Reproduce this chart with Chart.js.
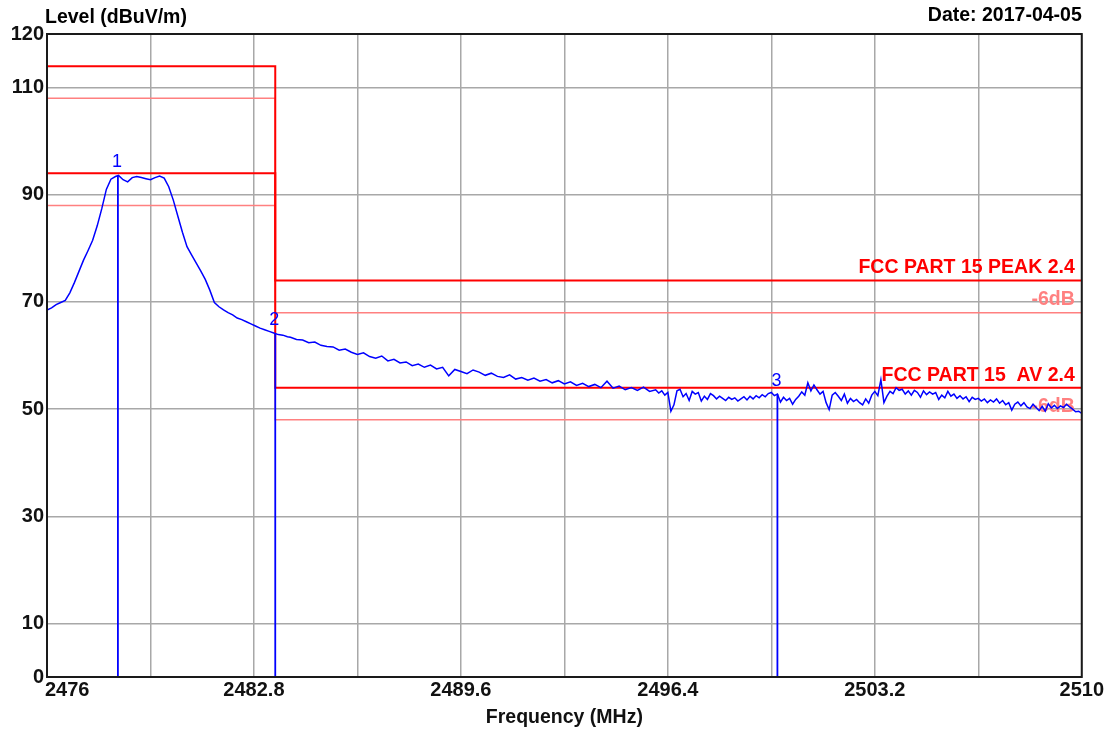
<!DOCTYPE html>
<html>
<head>
<meta charset="utf-8">
<script src="https://cdn.jsdelivr.net/npm/chart.js@4.4.1/dist/chart.umd.min.js"></script>
<style>
html, body { margin: 0; padding: 0; background: #fff; }
#wrap { width: 1105px; height: 731px; }
</style>
</head>
<body>
<div id="wrap"><canvas id="emiChart" width="1105" height="731"></canvas></div>
<script>
// measured sweep, [MHz, dBuV/m]
const trace = [
    [2476.00, 68.5], [2476.15, 68.9], [2476.30, 69.5], [2476.45, 69.9], [2476.60, 70.3],
    [2476.75, 71.7], [2476.90, 73.6], [2477.05, 75.7], [2477.20, 77.8], [2477.35, 79.6],
    [2477.50, 81.5], [2477.65, 84.2], [2477.80, 87.4], [2477.95, 91.0], [2478.10, 92.9],
    [2478.25, 93.4], [2478.35, 93.6], [2478.50, 92.8], [2478.65, 92.4], [2478.80, 93.2],
    [2478.95, 93.4], [2479.10, 93.2], [2479.25, 93.0], [2479.40, 92.8], [2479.55, 93.2],
    [2479.70, 93.5], [2479.85, 93.1], [2480.00, 91.5], [2480.15, 89.0], [2480.30, 86.0],
    [2480.45, 83.0], [2480.60, 80.3], [2480.75, 78.8], [2480.90, 77.3], [2481.05, 75.8],
    [2481.20, 74.2], [2481.35, 72.2], [2481.50, 69.9], [2481.65, 69.1], [2481.80, 68.5],
    [2481.95, 68.0], [2482.10, 67.6], [2482.25, 67.0], [2482.40, 66.7], [2482.55, 66.3],
    [2482.70, 65.9], [2482.85, 65.5], [2483.00, 65.1], [2483.15, 64.8], [2483.30, 64.5],
    [2483.45, 64.2], [2483.60, 63.9], [2483.75, 63.8], [2483.90, 63.5],
    [2484.0, 63.4], [2484.2, 63.0], [2484.4, 62.9], [2484.6, 62.4], [2484.8, 62.5],
    [2485.0, 61.9], [2485.2, 61.7], [2485.4, 61.6], [2485.6, 61.0], [2485.8, 61.2],
    [2486.0, 60.6], [2486.2, 60.2], [2486.4, 60.5], [2486.6, 59.8], [2486.8, 59.5],
    [2487.0, 59.9], [2487.2, 59.0], [2487.4, 59.3], [2487.6, 58.6], [2487.8, 58.8],
    [2488.0, 58.1], [2488.2, 58.4], [2488.4, 57.8], [2488.6, 58.2], [2488.8, 57.5],
    [2489.0, 57.8], [2489.2, 56.2], [2489.4, 57.4], [2489.6, 57.0], [2489.8, 56.6],
    [2490.0, 57.3], [2490.2, 56.9], [2490.4, 56.3], [2490.6, 56.7], [2490.8, 56.1],
    [2491.0, 55.9], [2491.2, 56.4], [2491.4, 55.6], [2491.6, 55.9], [2491.8, 55.4],
    [2492.0, 55.8], [2492.2, 55.2], [2492.4, 55.5], [2492.6, 54.9], [2492.8, 55.3],
    [2493.0, 54.7], [2493.2, 55.1], [2493.4, 54.4], [2493.6, 54.8], [2493.8, 54.2],
    [2494.0, 54.6], [2494.2, 54.0], [2494.4, 55.2], [2494.6, 53.9], [2494.8, 54.3],
    [2495.0, 53.6], [2495.2, 54.0], [2495.4, 53.5], [2495.6, 54.1], [2495.8, 53.3],
    [2496.0, 53.6], [2496.1, 53.0], [2496.2, 53.4], [2496.3, 52.6], [2496.4, 53.1],
    [2496.5, 49.6], [2496.6, 50.8], [2496.7, 53.4], [2496.8, 53.7], [2496.9, 52.3],
    [2497.0, 52.9], [2497.1, 51.6], [2497.2, 53.3], [2497.3, 52.8], [2497.4, 53.1],
    [2497.5, 51.5], [2497.6, 52.4], [2497.7, 51.8], [2497.8, 52.9], [2497.9, 52.5],
    [2498.0, 51.9], [2498.1, 52.4], [2498.2, 52.0], [2498.3, 51.6], [2498.4, 52.2],
    [2498.5, 51.8], [2498.6, 52.1], [2498.7, 51.5], [2498.8, 51.9], [2498.9, 52.3],
    [2499.0, 51.7], [2499.1, 52.4], [2499.2, 51.9], [2499.3, 52.5], [2499.4, 52.1],
    [2499.5, 52.7], [2499.6, 52.3], [2499.7, 52.9], [2499.8, 53.1], [2499.9, 52.5],
    [2500.0, 52.8], [2500.1, 51.3], [2500.2, 52.2], [2500.3, 51.6], [2500.4, 52.0],
    [2500.5, 50.9], [2500.6, 51.8], [2500.7, 52.4], [2500.8, 53.2], [2500.9, 52.6],
    [2501.0, 54.9], [2501.1, 53.4], [2501.2, 54.5], [2501.3, 53.6], [2501.4, 52.8],
    [2501.5, 53.3], [2501.6, 51.2], [2501.7, 49.9], [2501.8, 52.6], [2501.9, 53.1],
    [2502.0, 52.4], [2502.1, 51.6], [2502.2, 52.8], [2502.3, 51.1], [2502.4, 52.0],
    [2502.5, 51.4], [2502.6, 51.8], [2502.7, 51.2], [2502.8, 50.8], [2502.9, 51.9],
    [2503.0, 51.1], [2503.1, 52.6], [2503.2, 53.3], [2503.3, 52.5], [2503.4, 55.5],
    [2503.5, 51.2], [2503.6, 52.4], [2503.7, 53.3], [2503.8, 52.9], [2503.9, 54.0],
    [2504.0, 53.5], [2504.1, 53.7], [2504.2, 52.8], [2504.3, 53.4], [2504.4, 52.6],
    [2504.5, 53.5], [2504.6, 53.1], [2504.7, 52.2], [2504.8, 53.4], [2504.9, 52.7],
    [2505.0, 53.2], [2505.1, 52.8], [2505.2, 53.1], [2505.3, 51.8], [2505.4, 52.6],
    [2505.5, 52.1], [2505.6, 53.3], [2505.7, 52.4], [2505.8, 52.8], [2505.9, 52.0],
    [2506.0, 52.5], [2506.1, 51.9], [2506.2, 52.3], [2506.3, 51.4], [2506.4, 52.2],
    [2506.5, 51.8], [2506.6, 52.0], [2506.7, 51.5], [2506.8, 51.9], [2506.9, 51.2],
    [2507.0, 51.7], [2507.1, 51.3], [2507.2, 51.9], [2507.3, 51.1], [2507.4, 51.6],
    [2507.5, 50.8], [2507.6, 51.2], [2507.7, 49.8], [2507.8, 50.9], [2507.9, 51.3],
    [2508.0, 50.6], [2508.1, 51.2], [2508.2, 50.4], [2508.3, 50.1], [2508.4, 50.9],
    [2508.5, 50.3], [2508.6, 49.7], [2508.7, 50.5], [2508.8, 49.6], [2508.9, 51.0],
    [2509.0, 50.2], [2509.1, 50.7], [2509.2, 50.1], [2509.3, 50.6], [2509.4, 50.3],
    [2509.5, 50.9], [2509.6, 50.4], [2509.7, 50.0], [2509.8, 49.5], [2509.9, 49.6],
    [2510.0, 49.2]
];

// limit lines: [below band edge, above band edge]
const bandEdge = 2483.5;
const peakLimit = [114, 74];
const peakMargin = [108, 68];
const avLimit = [94, 54];
const avMargin = [88, 48];

const markerName = ["1", "2", "3"];
const markerFreq = [2478.33, 2483.5, 2500.0];
const markerLevel = [93.6, 64.2, 52.8];

const xMin = 2476;
const xMax = 2510;
const xGrid = [2476, 2479.4, 2482.8, 2486.2, 2489.6, 2493, 2496.4, 2499.8, 2503.2, 2506.6, 2510];
const xLabelled = [2476, 2482.8, 2489.6, 2496.4, 2503.2, 2510];
const yTicks = [0, 10, 30, 50, 70, 90, 110, 120];

const FONT = "'Liberation Sans', Arial, sans-serif";
const RED = "#ff0000";
const PINK = "#ff8080";
const BLUE = "#0000ff";

function stepLine(levels) {
    return [
        { x: xMin, y: levels[0] },
        { x: bandEdge, y: levels[0] },
        { x: bandEdge, y: levels[1] },
        { x: xMax, y: levels[1] }
    ];
}

const lineDefaults = {
    pointRadius: 0,
    pointHoverRadius: 0,
    tension: 0,
    fill: false
};

const datasets = [
    { ...lineDefaults, label: "peakMargin", data: stepLine(peakMargin), borderColor: PINK, borderWidth: 1.5, order: 4 },
    { ...lineDefaults, label: "avMargin", data: stepLine(avMargin), borderColor: PINK, borderWidth: 1.5, order: 4 },
    { ...lineDefaults, label: "peakLimit", data: stepLine(peakLimit), borderColor: RED, borderWidth: 2, order: 3 },
    { ...lineDefaults, label: "avLimit", data: stepLine(avLimit), borderColor: RED, borderWidth: 2, order: 3 },
    { ...lineDefaults, label: "trace", data: trace.map(p => ({ x: p[0], y: p[1] })), borderColor: BLUE, borderWidth: 1.5, order: 2 }
];

markerFreq.forEach((f, i) => {
    datasets.push({
        ...lineDefaults,
        label: "marker" + markerName[i],
        data: [{ x: f, y: 0 }, { x: f, y: markerLevel[i] }],
        borderColor: BLUE,
        borderWidth: 1.8,
        order: 1
    });
});

const overlay = {
    id: "overlay",
    beforeDatasetsDraw(chart) {
        const ctx = chart.ctx;
        const y = chart.scales.y;
        const right = chart.chartArea.right - 7;
        ctx.save();
        ctx.font = "bold 19.5px " + FONT;
        ctx.textAlign = "right";
        ctx.textBaseline = "middle";
        ctx.fillStyle = RED;
        ctx.fillText("FCC PART 15 PEAK 2.4", right, y.getPixelForValue(peakLimit[1]) - 13);
        ctx.fillText("FCC PART 15  AV 2.4", right, y.getPixelForValue(avLimit[1]) - 12);
        ctx.fillStyle = PINK;
        ctx.fillText("-6dB", right, y.getPixelForValue(peakMargin[1]) - 13);
        ctx.fillText("-6dB", right, y.getPixelForValue(avMargin[1]) - 13);
        ctx.restore();
    },
    afterDraw(chart) {
        const ctx = chart.ctx;
        const a = chart.chartArea;
        const xs = chart.scales.x;
        const ys = chart.scales.y;
        ctx.save();

        // plot frame
        ctx.strokeStyle = "#1a1a1a";
        ctx.lineWidth = 2;
        ctx.strokeRect(a.left, a.top, a.right - a.left, a.bottom - a.top);

        // marker numbers
        ctx.font = "18px " + FONT;
        ctx.fillStyle = BLUE;
        ctx.textAlign = "center";
        ctx.textBaseline = "middle";
        markerFreq.forEach((f, i) => {
            ctx.fillText(markerName[i], xs.getPixelForValue(f) - 1, ys.getPixelForValue(markerLevel[i]) - 13);
        });

        // header texts
        ctx.fillStyle = "#000";
        ctx.font = "bold 19.5px " + FONT;
        ctx.textAlign = "left";
        ctx.fillText("Level (dBuV/m)", a.left - 2, 18);
        ctx.textAlign = "right";
        ctx.fillText("Date: 2017-04-05", a.right, 16);

        // first frequency label sits right of the axis
        ctx.font = "bold 20px " + FONT;
        ctx.fillStyle = "#111";
        ctx.textAlign = "left";
        ctx.fillText(String(xLabelled[0]), xs.getPixelForValue(xLabelled[0]) - 2, a.bottom + 13);
        ctx.restore();
    }
};

new Chart(document.getElementById("emiChart"), {
    type: "line",
    data: { datasets: datasets },
    options: {
        responsive: false,
        animation: false,
        events: [],
        layout: { padding: { top: 34, right: 23, left: 0, bottom: 0 } },
        plugins: {
            legend: { display: false },
            tooltip: { enabled: false }
        },
        scales: {
            x: {
                type: "linear",
                min: xMin,
                max: xMax,
                afterBuildTicks: s => { s.ticks = xGrid.map(v => ({ value: v })); },
                afterFit: s => { s.height = 54; },
                grid: { color: "#a8a8a8", lineWidth: 1.5, drawTicks: false },
                border: { display: false },
                ticks: {
                    autoSkip: false,
                    maxRotation: 0,
                    padding: 1,
                    color: "#111",
                    font: { family: FONT, size: 20, weight: "bold" },
                    callback: v => (xLabelled.includes(v) && v !== xLabelled[0]) ? String(v) : ""
                },
                title: {
                    display: true,
                    text: "Frequency (MHz)",
                    color: "#111",
                    font: { family: FONT, size: 19.5, weight: "bold" },
                    padding: { top: 0, bottom: 2 }
                }
            },
            y: {
                min: 0,
                max: 120,
                afterBuildTicks: s => { s.ticks = yTicks.map(v => ({ value: v })); },
                afterFit: s => { s.width = 47; },
                grid: { color: "#a8a8a8", lineWidth: 1.5, drawTicks: false },
                border: { display: false },
                ticks: {
                    padding: 3,
                    color: "#111",
                    font: { family: FONT, size: 20, weight: "bold" },
                    callback: v => String(v)
                }
            }
        }
    },
    plugins: [overlay]
});
</script>
</body>
</html>
